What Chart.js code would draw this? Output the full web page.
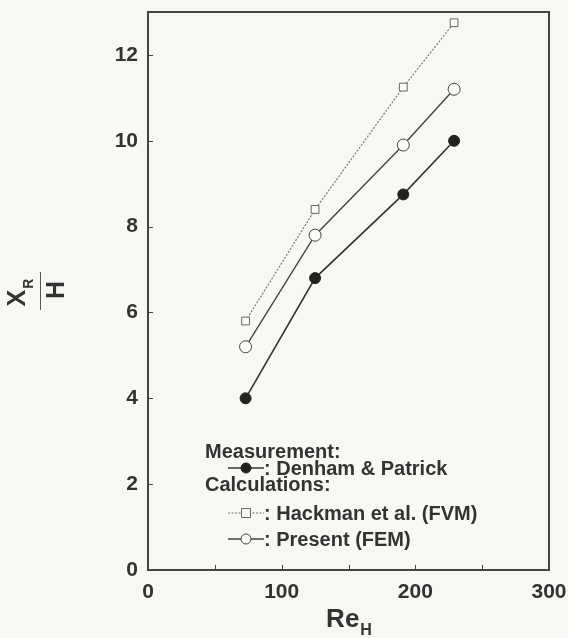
<!DOCTYPE html>
<html>
<head>
<meta charset="utf-8">
<script src="https://cdn.jsdelivr.net/npm/chart.js@4.4.1/dist/chart.umd.min.js"></script>
<style>
  html, body { margin: 0; padding: 0; background: #f8f7f4; }
  #wrap { width: 568px; height: 638px; }
</style>
</head>
<body>
<div id="wrap"><canvas id="chart1" width="568" height="638"></canvas></div>
<script>
// values
const reH = [73, 125, 191, 229];
const denham = [4.0, 6.8, 8.75, 10.0];      // measurement
const hackman = [5.8, 8.4, 11.25, 12.75];   // FVM
const present = [5.2, 7.8, 9.9, 11.2];      // FEM
const xTickMarks = [50, 100, 150, 200, 250];
const yTickMarks = [2, 4, 6, 8, 10, 12];

const ink = '#333';
const font = '"Liberation Sans", Arial, sans-serif';

function pts(ys) {
  return reH.map((x, i) => ({ x: x, y: ys[i] }));
}

// frame + inner tick marks
const framePlugin = {
  id: 'frame',
  afterDraw(chart) {
    const { ctx, chartArea: a, scales } = chart;
    ctx.save();
    ctx.strokeStyle = '#444';
    ctx.lineWidth = 2;
    ctx.strokeRect(a.left, a.top, a.right - a.left, a.bottom - a.top);
    ctx.lineWidth = 1;
    ctx.beginPath();
    xTickMarks.forEach(v => {
      const px = Math.round(scales.x.getPixelForValue(v)) + 0.5;
      ctx.moveTo(px, a.bottom);
      ctx.lineTo(px, a.bottom - 5);
    });
    yTickMarks.forEach(v => {
      const py = Math.round(scales.y.getPixelForValue(v)) + 0.5;
      ctx.moveTo(a.left, py);
      ctx.lineTo(a.left + 5, py);
    });
    ctx.stroke();
    ctx.restore();
  }
};

// axis titles with subscripts
const titlePlugin = {
  id: 'titles',
  afterDraw(chart) {
    const { ctx, chartArea: a } = chart;
    ctx.save();
    ctx.fillStyle = ink;
    ctx.textBaseline = 'alphabetic';
    // Re_H
    const cx = (a.left + a.right) / 2;
    ctx.font = 'bold 26px ' + font;
    const w1 = ctx.measureText('Re').width;
    ctx.font = 'bold 16px ' + font;
    const w2 = ctx.measureText('H').width;
    let x0 = cx - (w1 + w2) / 2;
    ctx.font = 'bold 26px ' + font;
    ctx.textAlign = 'left';
    ctx.fillText('Re', x0, 627);
    ctx.font = 'bold 16px ' + font;
    ctx.fillText('H', x0 + w1 + 1, 635);

    // X_R over H, rotated
    ctx.translate(40, (a.top + a.bottom) / 2);
    ctx.rotate(-Math.PI / 2);
    ctx.font = 'bold 25px ' + font;
    const wx = ctx.measureText('X').width;
    ctx.font = 'bold 14px ' + font;
    const wr = ctx.measureText('R').width;
    ctx.font = 'bold 25px ' + font;
    ctx.fillText('X', -(wx + wr) / 2 - 2, -15);
    ctx.font = 'bold 14px ' + font;
    ctx.fillText('R', -(wx + wr) / 2 + wx - 1, -7);
    ctx.strokeStyle = '#555';
    ctx.lineWidth = 1;
    ctx.beginPath();
    ctx.moveTo(-19, 0.5);
    ctx.lineTo(19, 0.5);
    ctx.stroke();
    ctx.font = 'bold 25px ' + font;
    ctx.textAlign = 'center';
    ctx.fillText('H', 1, 24);
    ctx.restore();
  }
};

// in-plot legend
const legendPlugin = {
  id: 'inlegend',
  afterDraw(chart) {
    const ctx = chart.ctx;
    ctx.save();
    ctx.font = 'bold 20px ' + font;
    ctx.fillStyle = ink;
    ctx.textAlign = 'left';
    ctx.fillText('Measurement:', 205, 458);
    ctx.fillText('Calculations:', 205, 491);
    const rows = [
      { y: 475, text: ': Denham & Patrick', ds: chart.data.datasets[0] },
      { y: 520, text: ': Hackman et al. (FVM)', ds: chart.data.datasets[1] },
      { y: 546, text: ': Present (FEM)', ds: chart.data.datasets[2] }
    ];
    rows.forEach(r => {
      const my = r.y - 7;
      ctx.strokeStyle = r.ds.borderColor;
      ctx.lineWidth = r.ds.borderWidth;
      ctx.setLineDash(r.ds.borderDash || []);
      ctx.beginPath();
      ctx.moveTo(228, my);
      ctx.lineTo(264, my);
      ctx.stroke();
      ctx.setLineDash([]);
      ctx.fillStyle = r.ds.pointBackgroundColor;
      ctx.strokeStyle = r.ds.pointBorderColor;
      ctx.lineWidth = 1;
      ctx.beginPath();
      if (r.ds.pointStyle === 'rect') {
        ctx.rect(241.5, my - 4.5, 9, 9);
      } else {
        ctx.arc(246, my, 5, 0, Math.PI * 2);
      }
      ctx.fill();
      ctx.stroke();
      ctx.fillStyle = ink;
      ctx.fillText(r.text, 264, r.y);
    });
    ctx.restore();
  }
};

new Chart(document.getElementById('chart1'), {
  type: 'scatter',
  data: {
    datasets: [
      {
        label: 'Denham & Patrick',
        data: pts(denham),
        showLine: true,
        borderColor: '#333',
        borderWidth: 1.6,
        pointStyle: 'circle',
        pointRadius: 5.5,
        pointBackgroundColor: '#222',
        pointBorderColor: '#222',
        pointBorderWidth: 1
      },
      {
        label: 'Hackman et al. (FVM)',
        data: pts(hackman),
        showLine: true,
        borderColor: '#777',
        borderWidth: 1.2,
        borderDash: [2, 1.5],
        pointStyle: 'rect',
        pointRadius: 5.5,
        pointBackgroundColor: '#fbfbfa',
        pointBorderColor: '#666',
        pointBorderWidth: 1
      },
      {
        label: 'Present (FEM)',
        data: pts(present),
        showLine: true,
        borderColor: '#444',
        borderWidth: 1.4,
        pointStyle: 'circle',
        pointRadius: 6,
        pointBackgroundColor: '#fbfbfa',
        pointBorderColor: '#444',
        pointBorderWidth: 1
      }
    ]
  },
  options: {
    responsive: false,
    animation: false,
    layout: { padding: { left: 0, top: 12, right: 19, bottom: 0 } },
    plugins: { legend: { display: false }, tooltip: { enabled: false } },
    scales: {
      x: {
        type: 'linear',
        min: 0, max: 300,
        afterFit: s => { s.height = 68; s.paddingLeft = 0; s.paddingRight = 0; },
        grid: { display: false, drawTicks: false },
        border: { display: false },
        ticks: {
          stepSize: 100,
          padding: 10,
          maxRotation: 0,
          autoSkip: false,
          color: ink,
          font: { family: font, size: 21, weight: 'bold' }
        }
      },
      y: {
        type: 'linear',
        min: 0, max: 13,
        afterFit: s => { s.width = 148; s.paddingTop = 0; s.paddingBottom = 0; },
        afterBuildTicks: s => { s.ticks = s.ticks.filter(t => t.value % 2 === 0); },
        grid: { display: false, drawTicks: false },
        border: { display: false },
        ticks: {
          stepSize: 2,
          padding: 10,
          color: ink,
          font: { family: font, size: 21, weight: 'bold' }
        }
      }
    }
  },
  plugins: [framePlugin, titlePlugin, legendPlugin]
});
</script>
</body>
</html>
